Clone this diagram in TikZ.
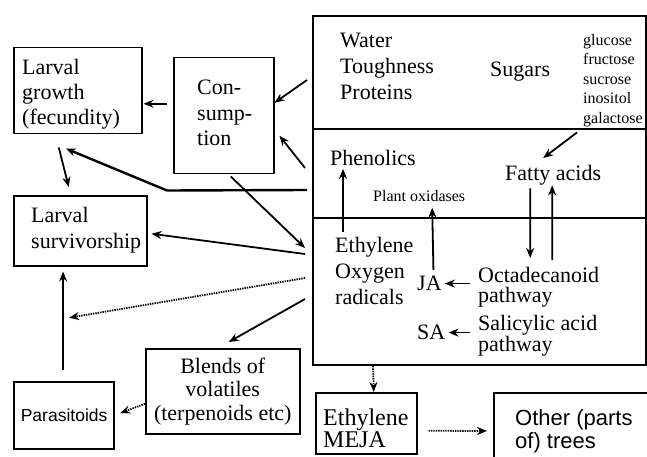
\documentclass[tikz,border=0pt]{standalone}
\usepackage{fontspec}
\setmainfont{Liberation Serif}
\setsansfont{Liberation Sans}
\usetikzlibrary{calc}
\usetikzlibrary{arrows.meta}

\begin{document}
\begin{tikzpicture}[x=1pt,y=-1pt,
    box/.style={draw,line width=1.5pt,inner sep=0pt,anchor=north west},
    txt/.style={inner sep=0pt,align=left,anchor=north west,font=\fontsize{22}{26}\selectfont},
    smalltxt/.style={txt,font=\fontsize{16}{19.5}\selectfont},
    arr/.style={-{Stealth[length=10pt,width=8pt]},line width=1.8pt},
    dotarr/.style={arr,dash pattern=on 1.4pt off 1pt}]
    \useasboundingbox (0,0) rectangle (647,457);
    \clip (0,0) rectangle (647,457);

    % plant box, three layers
    \node[box,line width=2pt,minimum width=333pt,minimum height=113pt] (top) at (312,15) {};
    \node[box,line width=2pt,minimum width=333pt,minimum height=89pt] (mid) at (312,128) {};
    \node[box,line width=2pt,minimum width=333pt,minimum height=147pt] (low) at (312,217) {};

    \node[txt] (water) at (340,33) {Water\\Toughness\\Proteins};
    \node[txt] (sugars) at (490,62) {Sugars};
    \node[smalltxt] (sugarlist) at (583,34) {glucose\\fructose\\sucrose\\inositol\\galactose};
    \node[txt] (phen) at (330,150) {Phenolics};
    \node[txt] (fatty) at (505,165) {Fatty acids};
    \node[smalltxt] (oxid) at (373,190) {Plant oxidases};
    \node[txt] (ethyl) at (335,237) {Ethylene\\Oxygen\\radicals};
    \node[txt] (ja) at (417,276) {JA};
    \node[txt] (sa) at (417,325) {SA};
    \node[txt,font=\fontsize{22}{20}\selectfont] (octa) at (478,267) {Octadecanoid\\pathway};
    \node[txt,font=\fontsize{22}{20}\selectfont] (salic) at (478,315) {Salicylic acid\\pathway};

    % insect side
    \node[box,minimum width=128pt,minimum height=86pt] (growth) at (13,47) {};
    \node[txt,font=\fontsize{22}{25}\selectfont] (growthtxt) at (22,59) {Larval\\growth\\(fecundity)};
    \node[box,minimum width=100pt,minimum height=116pt] (cons) at (173,57) {};
    \node[txt,font=\fontsize{22}{25.5}\selectfont] (constxt) at (197,80) {Con-\\sump-\\tion};
    \node[box,minimum width=133pt,minimum height=70pt] (surv) at (13,195) {};
    \node[txt] (survtxt) at (31,207) {Larval\\survivorship};
    \node[box,line width=2.2pt,minimum width=100pt,minimum height=67pt,
        font=\sffamily\fontsize{17.5}{20}\selectfont] (para) at (13,381) {Parasitoids};
    \node[box,minimum width=154pt,minimum height=85pt,align=center,
        font=\fontsize{22}{23.5}\selectfont] (blends) at (145,348) {Blends of\\volatiles\\(terpenoids etc)};
    \node[box,minimum width=101pt,minimum height=61pt] (meja) at (315,392) {};
    \node[txt,font=\fontsize{24}{22}\selectfont] (mejatxt) at (323,409) {Ethylene\\MEJA};
    \node[box,line width=2pt,minimum width=160pt,minimum height=80pt] (other) at (493,392) {};
    \node[txt,font=\sffamily\fontsize{22}{23}\selectfont] (othertxt) at (515,409) {Other (parts\\of) trees};

    % connectors
    \draw[arr] ($(cons.west)+(-6,-12)$) -- ($(growth.east)+(1,13)$);
    \draw[arr] ($(top.west)+(-5,7.5)$) -- ($(cons.east)+(0,-13)$);
    \draw[arr] ($(mid.west)+(-7,-5.5)$) -- ($(cons.east)+(5,20)$);
    \draw[arr,line width=2.4pt] ($(mid.west)+(-5,16.5)$) -- ($(cons.south west)+(-6,16)$)
        -- ($(growth.south)+(-12,14)$);
    \draw[arr] ($(growth.south)+(-19,13)$) -- ($(surv.north)+(-11.5,-8)$);
    \draw[arr] ($(cons.south)+(7,2)$) -- ($(low.west)+(-7,-43.5)$);
    \draw[arr] ($(low.west)+(-7,-37.5)$) -- ($(surv.east)+(4,3)$);
    \draw[arr] ($(para.north)+(-1,-11)$) -- ($(para.north |- surv.south)+(-1,5)$);
    \coordinate (survlink) at ($(para.north |- surv.south)!0.5!(para.north)+(5,-6)$);
    \draw[dotarr] ($(low.west)+(-7,-13.5)$) -- (survlink);
    \draw[arr] ($(low.west)+(-7,7.5)$) -- ($(blends.north)+(6,-6)$);
    \draw[dotarr] ($(blends.west)+(0,12.5)$) -- ($(para.east)+(5,-2.5)$);
    \draw[dotarr] ($(low.south west)+(61,0)$) -- ($(meja.north)+(7.5,0)$);
    \draw[dotarr] ($(meja.east)+(11,7.5)$) -- ($(other.west)+(-6,-2)$);

    \draw[arr] ($(sugarlist.south west)+(-6,5.5)$) -- ($(fatty.north)+(-10,-7)$);
    \draw[arr] ($(ethyl.north west)+(8,-5)$) -- ($(phen.south west)+(13,3)$);
    \draw[arr] ($(ja.north)+(4,-6)$) -- ($(oxid.south)+(13,6)$);
    \draw[arr] ($(fatty.south)+(-23,3)$) -- ($(octa.north)+(-8.5,-9)$);
    \draw[arr] ($(octa.north)+(13.5,-7)$) -- ($(fatty.south)+(-1,0)$);
    \draw[arr] ($(ja.east -| octa.west)+(-8,0)$) -- ($(ja.east)+(3,0)$);
    \draw[arr] ($(sa.east -| salic.west)+(-8,0)$) -- ($(sa.east)+(3,0)$);
\end{tikzpicture}
\end{document}
